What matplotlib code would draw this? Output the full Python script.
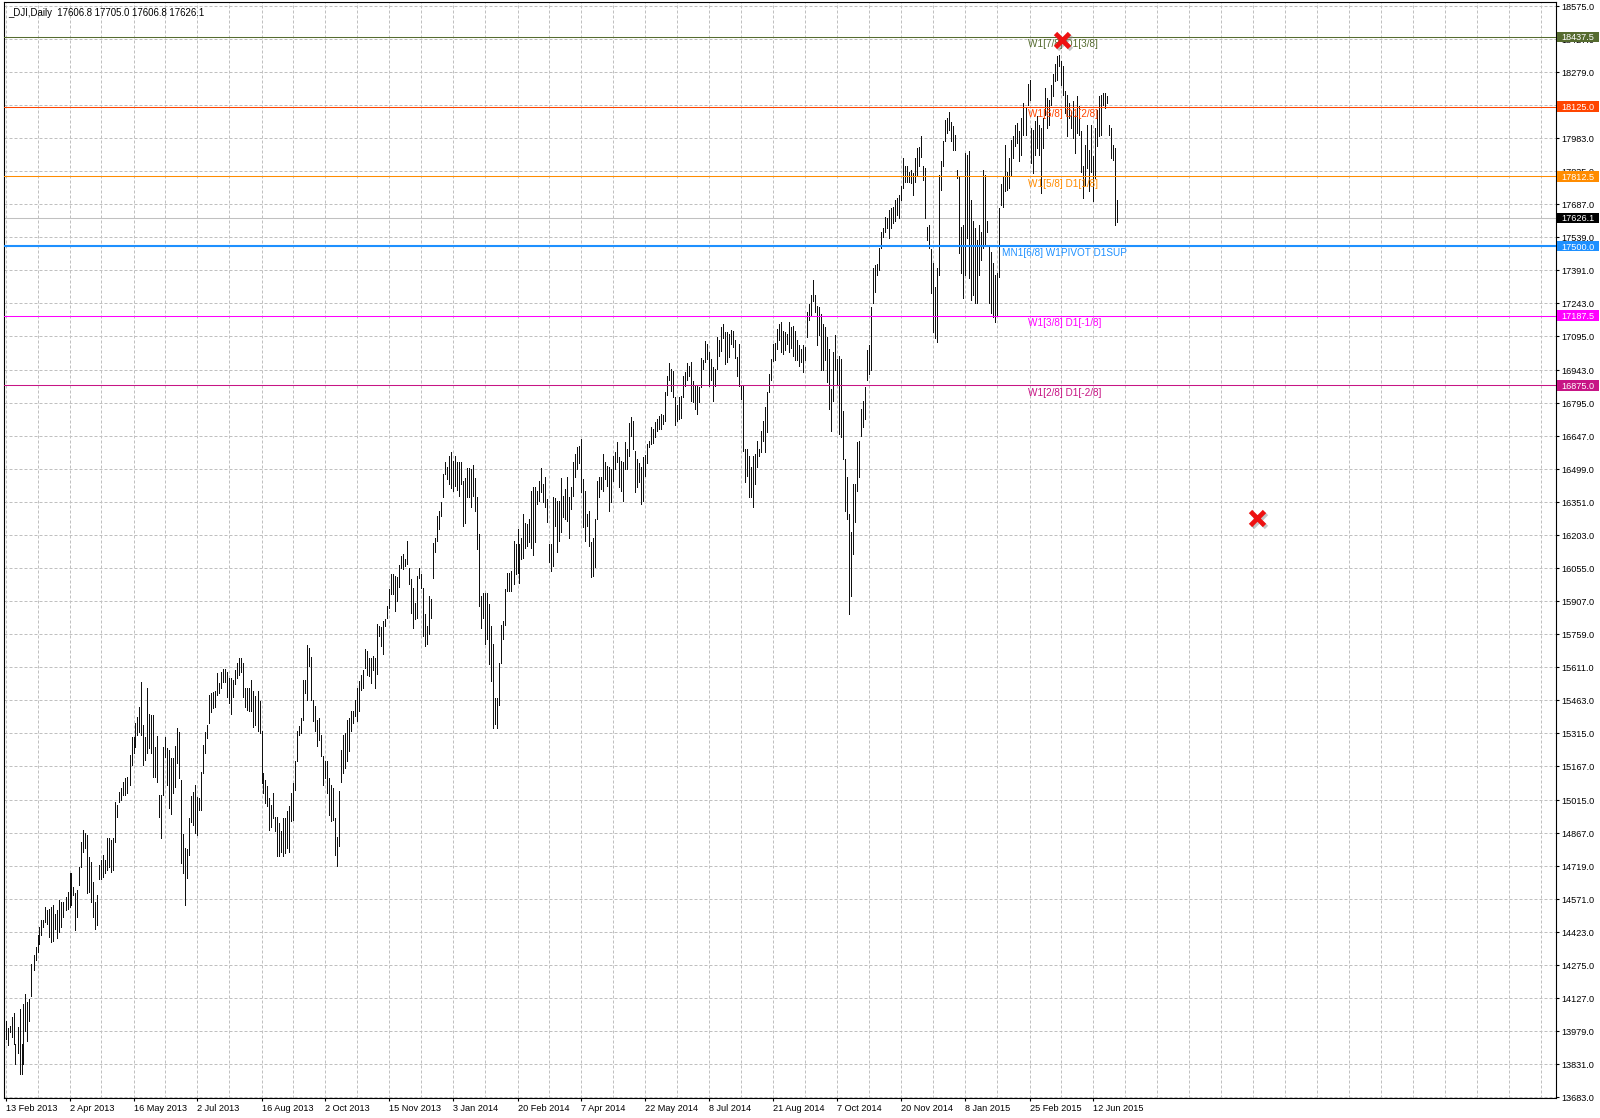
import matplotlib.pyplot as plt
import numpy as np
from matplotlib.patches import Rectangle
from matplotlib.transforms import blended_transform_factory, offset_copy

plt.rcParams['font.family'] = ['Liberation Sans', 'DejaVu Sans']

header = '_DJI,Daily  17606.8 17705.0 17606.8 17626.1'

# daily highs / lows, one value per bar (Feb 2013 .. Jun 2015)
bar_high = [
    14026, 13992, 14001, 14044, 14059, 13922, 13997, 14079, 13922, 14102,
    14147, 14109, 14124, 14282, 14319, 14357, 14409, 14447, 14477, 14477,
    14537, 14522, 14529, 14537, 14544, 14507, 14522, 14567, 14559, 14559,
    14582, 14604, 14687, 14687, 14627, 14597, 14612, 14717, 14829, 14882,
    14867, 14859, 14762, 14739, 14649, 14559, 14589, 14724, 14747, 14769,
    14747, 14844, 14844, 14837, 14844, 15009, 14994, 15054, 15069, 15099,
    15116, 15121, 15218, 15300, 15300, 15360, 15390, 15435, 15543, 15353,
    15300, 15520, 15401, 15395, 15395, 15255, 15303, 15038, 15038, 15255,
    15297, 15248, 15240, 15203, 15203, 15260, 15341, 15323, 15106, 14862,
    14799, 14796, 14934, 15035, 15053, 15083, 15031, 15026, 15140, 15263,
    15323, 15353, 15485, 15495, 15502, 15505, 15585, 15540, 15589, 15604,
    15604, 15589, 15562, 15562, 15555, 15600, 15630, 15652, 15655, 15630,
    15517, 15517,
    15519, 15556, 15504, 15481, 15504, 15459, 15324, 15137, 15107, 15077,
    15025, 14995, 15047, 14942, 14942, 14912, 14875, 14935, 14935, 14965,
    14987, 15047, 15092, 15189, 15324, 15346, 15384, 15556, 15556, 15710,
    15698, 15656, 15466, 15436, 15376, 15384, 15309, 15212, 15189, 15189,
    15114, 15084, 15070, 14935, 14852, 15055, 15242, 15309, 15317, 15376,
    15384, 15414, 15414, 15466, 15519, 15549, 15578, 15601, 15691, 15683,
    15653, 15653, 15661, 15653,
    15804, 15796, 15792, 15819, 15826, 15886, 15961, 16028, 16028, 16021,
    16016, 16070, 16111, 16118, 16096, 16178, 16058, 16009, 15968, 15901,
    16021, 16058, 16028, 15968, 15849, 15796, 15931, 15916, 16170, 16193,
    16290, 16313, 16350, 16477, 16530, 16507, 16560, 16575, 16534, 16560,
    16530, 16530, 16530, 16447, 16462, 16504, 16503, 16500, 16519, 16462,
    16373, 16208, 15931, 15946, 15946, 15946, 15893, 15796, 15714, 15474,
    15474,
    15630, 15800, 15820, 15960,
    16032, 16036, 16044, 16178, 16163, 16231, 16163, 16193, 16298, 16256,
    16253, 16276, 16400, 16418, 16421, 16403, 16448, 16505, 16433, 16463,
    16365, 16163, 16163, 16373, 16370, 16358, 16358, 16460, 16380, 16410,
    16466, 16373, 16418, 16530, 16567, 16597, 16605, 16635, 16455, 16403,
    16298, 16313, 16171, 16193, 16276, 16448, 16463, 16463, 16567, 16530,
    16515, 16508, 16500, 16560, 16575, 16620, 16553, 16538, 16530,
    16620, 16590, 16705, 16735, 16714, 16582, 16545, 16525, 16507, 16552,
    16564, 16612, 16627, 16690, 16680, 16710, 16725, 16740, 16747, 16744,
    16844, 16919, 16975, 16949, 16939, 16822, 16789, 16822, 16829, 16915,
    16934, 16975, 16964, 16979, 16894, 16874, 16874, 16870, 16999, 16987,
    17073, 17061, 17024, 16994, 16957, 16949, 17091, 17079, 17139, 17151,
    17114, 17114, 17106, 17124, 17121, 17079, 17001, 17061, 16874, 16874,
    16590, 16590, 16560,
    16508, 16560, 16568, 16627, 16590, 16672, 16717, 16777, 16845, 16927,
    16994, 17062, 17065, 17129, 17151, 17159, 17121, 17114, 17107, 17159,
    17137, 17140, 17121, 17077, 17054, 17039, 17054, 17047, 17204, 17241,
    17279, 17349, 17279, 17229, 17226, 17196, 17151, 17137, 17092, 17039,
    16860, 17024, 17099, 16994, 17009, 16994, 16762, 16545, 16463, 16298,
    16216, 16433, 16433, 16620, 16627, 16770, 16807, 16867, 17032, 17054,
    17226,
    17400, 17415, 17420, 17490, 17565, 17580, 17632, 17625, 17662, 17670,
    17677, 17707, 17714, 17729, 17767, 17894, 17857, 17857, 17834, 17842,
    17827, 17894, 17939, 17946, 17994, 17857, 17849, 17587, 17595, 17485,
    17422, 17318, 17400, 17819, 17879, 17969, 18063, 18074, 18099, 18054,
    18039, 17999, 17842, 17812, 17587, 17595, 17916, 17909, 17924, 17707,
    17610, 17580, 17527, 17595, 17565, 17839, 17819, 17610, 17497, 17475,
    17422, 17370, 17378, 17670,
    17777, 17812, 17951, 17834, 17894, 17977, 17991, 18044, 18051, 18014,
    18074, 18141, 18119, 18227, 18246, 18029, 18021, 18059, 18081, 18044,
    18029, 18074, 18209, 18164, 18156, 18224, 18271, 18316, 18351, 18358,
    18328, 18306, 18194, 18179, 18141, 18104, 18149, 18089, 18171, 18126,
    18014, 17857, 17954, 18044, 17932, 18044, 17902, 18029, 18111, 18171,
    18179, 18186, 18186, 18171, 18044, 18029, 17954, 17940, 17705.0,
]

bar_low = [
    13944, 13917, 13974, 13952, 13922, 13832, 13884, 13787, 13787, 13832,
    13982, 13937, 14026, 14139, 14252, 14297, 14334, 14372, 14409, 14447,
    14469, 14462, 14402, 14379, 14382, 14439, 14397, 14424, 14447, 14492,
    14522, 14529, 14537, 14544, 14589, 14432, 14492, 14634, 14717, 14784,
    14799, 14597, 14604, 14559, 14492, 14439, 14454, 14664, 14664, 14672,
    14687, 14702, 14717, 14694, 14702, 14829, 14942, 15009, 15017, 15039,
    15038, 15046, 15083, 15173, 15226, 15255, 15308, 15323, 15308, 15173,
    15196, 15226, 15248, 15226, 15121, 15121, 15098, 14941, 14844, 15038,
    15211, 15083, 14978, 14952, 15046, 15076, 15181, 15113, 14732, 14687,
    14544, 14667, 14769, 14919, 14904, 14866, 14859, 14971, 14971, 15136,
    15226, 15293, 15360, 15410, 15428, 15435, 15487, 15495, 15517, 15547,
    15547, 15480, 15450, 15401, 15480, 15535, 15562, 15577, 15592, 15480,
    15431, 15420,
    15417, 15414, 15342, 15354, 15324, 15317, 15092, 15047, 15002, 14987,
    14882, 14897, 14935, 14875, 14763, 14763, 14785, 14763, 14778, 14800,
    14785, 14920, 14927, 15062, 15189, 15309, 15317, 15376, 15496, 15466,
    15616, 15466, 15369, 15324, 15257, 15287, 15212, 15084, 15114, 15047,
    14950, 14920, 14927, 14770, 14718, 14808, 15099, 15137, 15159, 15189,
    15234, 15324, 15361, 15391, 15369, 15414, 15511, 15519, 15608, 15578,
    15571, 15541, 15601, 15519,
    15579, 15751, 15706, 15669, 15796, 15834, 15879, 15941, 15938, 15864,
    15908, 15973, 16058, 16051, 16066, 16073, 15986, 15856, 15789, 15826,
    15834, 16013, 15968, 15751, 15706, 15714, 15759, 15834, 16013, 16126,
    16178, 16230, 16290, 16373, 16477, 16455, 16432, 16417, 16402, 16425,
    16405, 16380, 16432, 16245, 16260, 16376, 16373, 16328, 16380, 16313,
    16140, 15886, 15789, 15834, 15714, 15736, 15624, 15549, 15340, 15355,
    15340,
    15440, 15630, 15740, 15800,
    15954, 15954, 15954, 15984, 16029, 16032, 15991, 16096, 16103, 16148,
    16156, 16171, 16148, 16115, 16171, 16343, 16358, 16395, 16350, 16328,
    16261, 16081, 16044, 16066, 16246, 16126, 16178, 16216, 16283, 16276,
    16268, 16193, 16320, 16380, 16463, 16500, 16526, 16395, 16238, 16178,
    16246, 16156, 16014, 16021, 16059, 16276, 16373, 16410, 16403, 16455,
    16425, 16313, 16350, 16448, 16500, 16530, 16418, 16403, 16358,
    16500, 16500, 16560, 16650, 16590, 16395, 16418, 16440, 16343, 16358,
    16470, 16525, 16597, 16612, 16615, 16642, 16669, 16680, 16680, 16702,
    16714, 16834, 16897, 16852, 16825, 16699, 16717, 16725, 16729, 16825,
    16874, 16897, 16919, 16807, 16800, 16769, 16747, 16800, 16870, 16949,
    16979, 16994, 16874, 16897, 16807, 16874, 16949, 17009, 17031, 17088,
    16972, 16979, 17001, 17061, 17046, 16999, 16915, 16874, 16814, 16582,
    16440, 16470, 16373,
    16373, 16328, 16433, 16508, 16560, 16575, 16627, 16575, 16665, 16845,
    16897, 16984, 16990, 17039, 17077, 17024, 17017, 17032, 17062, 17024,
    17044, 17005, 16987, 16987, 16964, 16979, 16935, 16987, 17092, 17166,
    17189, 17253, 17204, 17054, 17099, 16942, 16942, 16987, 16890, 16770,
    16672, 16807, 16942, 16875, 16657, 16642, 16545, 16313, 16276, 15849,
    15931, 16119, 16261, 16403, 16463, 16650, 16687, 16725, 16897, 16927,
    16942,
    17243, 17295, 17370, 17393, 17490, 17542, 17565, 17580, 17535, 17580,
    17602, 17610, 17640, 17625, 17707, 17759, 17789, 17789, 17789, 17782,
    17729, 17789, 17819, 17857, 17901, 17797, 17625, 17527, 17490, 17288,
    17116, 17086, 17071, 17370, 17752, 17857, 17969, 18006, 18021, 17969,
    17931, 17931, 17804, 17467, 17378, 17265, 17370, 17535, 17355, 17258,
    17280, 17243, 17243, 17370, 17437, 17490, 17505, 17565, 17243, 17198,
    17183, 17161, 17190, 17363,
    17685, 17677, 17745, 17752, 17760, 17819, 17894, 17947, 17962, 17879,
    17909, 17999, 17999, 18134, 18156, 17872, 17827, 17909, 17939, 17909,
    17737, 17939, 18089, 18029, 18044, 18134, 18171, 18239, 18246, 18306,
    18224, 18179, 18096, 17991, 18074, 18029, 17984, 17917, 18006, 17999,
    17834, 17715, 17774, 17849, 17745, 17834, 17700, 17804, 17947, 17991,
    17999, 18134, 18119, 18141, 17999, 17894, 17887, 17595, 17606.8,
]

date_labels = ['13 Feb 2013', '2 Apr 2013', '16 May 2013', '2 Jul 2013', '16 Aug 2013',
               '2 Oct 2013', '15 Nov 2013', '3 Jan 2014', '20 Feb 2014', '7 Apr 2014',
               '22 May 2014', '8 Jul 2014', '21 Aug 2014', '7 Oct 2014', '20 Nov 2014',
               '8 Jan 2015', '25 Feb 2015', '12 Jun 2015']
date_bars = [0, 32, 64, 96, 128, 160, 192, 224, 256, 288, 320, 352, 384, 416, 448, 480, 512, 544]

price_ticks = [13683, 13831, 13979, 14127, 14275, 14423, 14571, 14719, 14867, 15015,
               15167, 15315, 15463, 15611, 15759, 15907, 16055, 16203, 16351, 16499,
               16647, 16795, 16943, 17095, 17243, 17391, 17539, 17687, 17835, 17983,
               18131, 18279, 18427, 18575]

# murrey math style levels
level_price = [18437.5, 18125.0, 17812.5, 17500.0, 17187.5, 16875.0]
level_text = ['W1[7/8] D1[3/8]', 'W1[6/8] D1[2/8]', 'W1[5/8] D1[1/8]',
              'MN1[6/8] W1PIVOT D1SUP', 'W1[3/8] D1[-1/8]', 'W1[2/8] D1[-2/8]']
level_color = ['#556b2f', '#ff4500', '#ff8c00', '#1e90ff', '#ff00ff', '#c71585']
level_lw = [0.75, 0.75, 0.75, 1.5, 0.75, 0.75]
level_text_bar = [511.5, 511.5, 511.5, 498.5, 511.5, 511.5]

last_price = 17626.1
stop_marks_bar = [528.5, 626]
stop_marks_price = [18423, 16281]

fig = plt.figure(figsize=(16, 11.18), dpi=100)
ax = fig.add_axes([4 / 1600, 20 / 1118, 1552 / 1600, 1096 / 1118])
# quarter-bar shift puts every bar on a pixel centre, so the 1 px lines stay crisp
ax.set_xlim(-0.75, 775.25)
ax.set_ylim(13680, 18594)

bars = np.arange(len(bar_high))
ax.vlines(bars, bar_low, bar_high, colors='#111111', linewidth=0.72,
          antialiased=False, snap=True, zorder=3)

# grid
ax.set_xticks(date_bars)
ax.set_xticklabels(date_labels, ha='left')
ax.set_xticks(np.arange(0, 776, 16), minor=True)
ax.set_yticks(price_ticks)
ax.set_yticklabels([f'{p:.1f}' for p in price_ticks])
ax.yaxis.tick_right()
ax.set_axisbelow(True)
grid_style = dict(color='#c0c0c0', linestyle=(0, (3, 2)), linewidth=0.72)
ax.grid(True, which='both', axis='x', **grid_style)
ax.grid(True, which='major', axis='y', **grid_style)
ax.tick_params(axis='x', which='minor', length=0)
ax.tick_params(axis='x', which='major', length=2.5, pad=1.5, labelsize=6.6)
ax.tick_params(axis='y', length=2, pad=2, labelsize=6.6)
for sp in ax.spines.values():
    sp.set_linewidth(0.8)
    sp.set_color('black')

# levels
for p, c, lw, t, tb in zip(level_price, level_color, level_lw, level_text, level_text_bar):
    ax.axhline(p, color=c, linewidth=lw, zorder=4)
    ax.annotate(t, (tb, p), xytext=(0, -5.2), textcoords='offset points',
                ha='left', va='center', color=c, fontsize=7.2, zorder=5)
ax.axhline(last_price, color='#c0c0c0', linewidth=0.75, zorder=2)

# price boxes on the scale
trans = blended_transform_factory(ax.transAxes, ax.transData)
unit = (18594 - 13680) / 1096
box_h = 10.5 * unit
box_w = 42 / 1552
box_vals = level_price[:3] + [last_price] + level_price[3:]
box_cols = level_color[:3] + ['black'] + level_color[3:]
for p, c in zip(box_vals, box_cols):
    ax.add_patch(Rectangle((1.0007, p - box_h / 2), box_w, box_h, transform=trans,
                           facecolor=c, edgecolor='none', clip_on=False, zorder=6))
    ax.text(1.0007 + box_w / 2, p, f'{p:.1f}', transform=trans, ha='center',
            va='center_baseline', color='white', fontsize=6.6, zorder=7, clip_on=False)

# red stop marks with soft shadow
shadow = offset_copy(ax.transData, fig=fig, x=2, y=-2, units='dots')
for bx, by in zip(stop_marks_bar, stop_marks_price):
    ax.plot(bx, by, marker='x', ms=10, mew=3.4, color='#808080', alpha=0.45,
            transform=shadow, zorder=8)
    ax.plot(bx, by, marker='x', ms=10, mew=3.4, color='#ee1111', zorder=9)

fig.text(8 / 1600, 1 - 13 / 1118, header, ha='left', va='center', fontsize=6.9)

fig.savefig('out.png', dpi=100)
